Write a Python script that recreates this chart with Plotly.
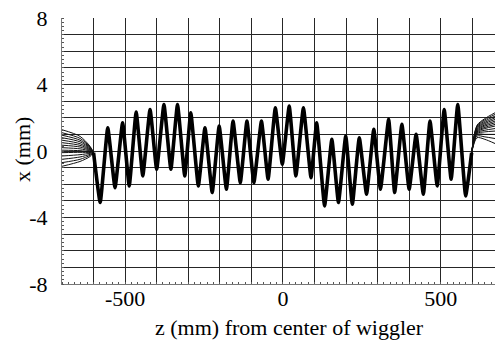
import plotly.graph_objects as go

# Shared (bundled) wiggle trajectory: extrema
z_core = [-600, -579, -555, -532, -508, -487, -465, -444, -421, -400, -377, -355, -334, -311,
          -292, -268, -247, -224, -202, -179, -158, -135, -114, -92, -68, -47, -24, -2,
          20, 41, 65, 89, 107, 132, 155, 176, 199, 220, 242, 265, 288, 309, 335, 354,
          377, 400, 422, 445, 466, 489, 511, 533, 554, 579, 598]
x_core = [-0.1, -3.1, 1.4, -2.2, 1.7, -2.1, 2.35, -1.5, 2.5, -1.1, 2.8, -1.1, 2.8, -1.5,
          2.3, -2.1, 1.4, -2.5, 1.5, -2.3, 1.8, -1.9, 1.8, -1.9, 1.8, -1.7, 2.6, -0.8,
          2.7, -1.5, 2.6, -1.6, 1.7, -3.3, 0.7, -3.1, 0.9, -3.2, 0.8, -2.6, 1.3, -2.3, 1.9, -2.5,
          1.6, -2.3, 1.0, -2.6, 1.8, -2.1, 2.5, -1.7, 2.8, -2.7, -0.1]

# Entrance fan (each trajectory): x at z = -700, -643, -611, then joins bundle at -600
z_left = [-700, -643, -611, -600]
left_a = [1.28, 1.1, 0.95, 0.8, 0.65, 0.5, 0.35, 0.2, 0.05, -0.1, -0.3, -0.5, -0.7, -0.92]
left_b = [0.88, 0.76, 0.65, 0.55, 0.44, 0.34, 0.24, 0.13, 0.02, -0.08, -0.22, -0.36, -0.5, -0.63]
left_c = [0.28, 0.24, 0.2, 0.16, 0.12, 0.08, 0.04, 0.0, -0.04, -0.09, -0.14, -0.2, -0.26, -0.33]
left_join = -0.1

# Exit fan (each trajectory): leaves bundle at 598, x at z = 615, 640, 672
z_right = [598, 615, 640, 672]
right_join = -0.1
right_a = [1.55, 1.5, 1.45, 1.4, 1.35, 1.3, 1.25, 1.2, 1.15, 1.1, 1.05, 1.0, 0.9, 0.8]
right_b = [1.95, 1.88, 1.8, 1.72, 1.65, 1.57, 1.5, 1.42, 1.35, 1.25, 1.15, 1.0, 0.85, 0.7]
right_c = [2.3, 2.2, 2.1, 2.0, 1.9, 1.8, 1.7, 1.6, 1.5, 1.35, 1.2, 1.0, 0.75, 0.45]

x_tickvals = [-600, -500, -400, -300, -200, -100, 0, 100, 200, 300, 400, 500, 600]
x_ticktext = ["", "-500", "", "", "", "", "0", "", "", "", "", "500", ""]
y_tickvals = [-8, -7, -6, -5, -4, -3, -2, -1, 0, 1, 2, 3, 4, 5, 6, 7, 8]
y_ticktext = ["-8", "", "", "", "-4", "", "", "", "0", "", "", "", "4", "", "", "", "8"]

FONT = "Liberation Serif"

fig = go.Figure()

for i in range(len(left_a)):
    fig.add_trace(go.Scatter(
        x=z_left, y=[left_a[i], left_b[i], left_c[i], left_join],
        mode="lines", line=dict(color="#111", width=1, shape="spline", smoothing=0.8),
        showlegend=False, hoverinfo="skip"))
    fig.add_trace(go.Scatter(
        x=z_right, y=[right_join, right_a[i], right_b[i], right_c[i]],
        mode="lines", line=dict(color="#111", width=1, shape="spline", smoothing=0.8),
        showlegend=False, hoverinfo="skip"))

fig.add_trace(go.Scatter(
    x=z_core, y=x_core, mode="lines",
    line=dict(color="#000", width=3.6, shape="spline", smoothing=0.35),
    showlegend=False, hoverinfo="skip"))

fig.update_xaxes(
    range=[-700, 672], tickvals=x_tickvals, ticktext=x_ticktext,
    showgrid=True, gridcolor="#262626", gridwidth=1, zeroline=False,
    showline=True, linecolor="#777", linewidth=1, ticks="",
    ticklabelstandoff=-5,
    tickfont=dict(family=FONT, size=22, color="#000"),
    minor=dict(dtick=20, ticks="inside", ticklen=2, tickcolor="#555", showgrid=False),
)
fig.update_yaxes(
    range=[-8, 8], tickvals=y_tickvals, ticktext=y_ticktext,
    showgrid=True, gridcolor="#262626", gridwidth=1, zeroline=False,
    showline=True, linecolor="#777", linewidth=1, ticks="",
    ticklabelstandoff=9,
    tickfont=dict(family=FONT, size=22, color="#000"),
    minor=dict(dtick=0.25, ticks="inside", ticklen=2, tickcolor="#555", showgrid=False),
)

fig.add_annotation(text="z (mm) from center of wiggler", xref="paper", yref="paper",
                   x=(289 - 62) / 433, y=-43 / 266, xanchor="center", yanchor="middle",
                   showarrow=False, font=dict(family=FONT, size=22, color="#000"))
fig.add_annotation(text="x (mm)", xref="paper", yref="paper",
                   x=(22 - 62) / 433, y=(284 - 150) / 266, xanchor="center", yanchor="middle",
                   textangle=-90, showarrow=False, font=dict(family=FONT, size=22, color="#000"))

fig.update_layout(
    width=495, height=341,
    margin=dict(l=62, r=0, t=18, b=57),
    paper_bgcolor="white", plot_bgcolor="white",
    font=dict(family=FONT),
)

fig.write_html("out.html")
